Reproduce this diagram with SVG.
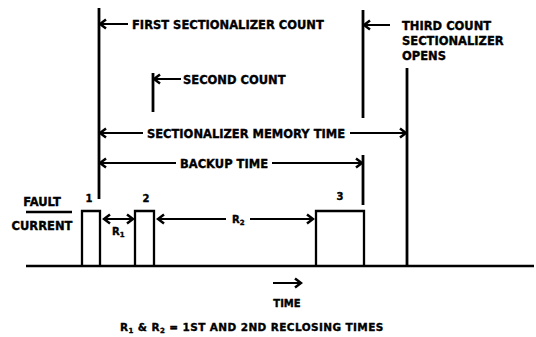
<svg xmlns="http://www.w3.org/2000/svg" width="536" height="337" viewBox="0 0 536 337">
<defs>
<style>
.t{font-family:"DejaVu Sans","Liberation Sans",sans-serif;font-weight:bold;fill:#000;stroke:#000;stroke-width:0.35px;}
.l{font-size:11.5px;}
.s{font-size:10px;}
.g{font-size:10.5px;letter-spacing:0.4px;}
.ln{stroke:#000;fill:none;stroke-width:2;}
.v{stroke:#000;fill:none;stroke-width:2.8;}
.p{stroke:#000;fill:none;stroke-width:2.3;stroke-linejoin:miter;}
</style>
<marker id="ah" markerUnits="userSpaceOnUse" viewBox="-8 -6 10 12" refX="0" refY="0" markerWidth="10" markerHeight="12" orient="auto-start-reverse">
<path d="M-6,-4.5 L0,0 L-6,4.5" fill="none" stroke="#000" stroke-width="2.5"/>
</marker>
</defs>
<rect width="536" height="337" fill="#fff"/>
<g id="connectors">
<line class="v" x1="99" y1="8" x2="99" y2="199"/>
<line class="ln" x1="128" y1="24" x2="100" y2="24" marker-end="url(#ah)"/>
<line class="v" x1="153" y1="73" x2="153" y2="112"/>
<line class="ln" x1="181" y1="79" x2="154" y2="79" marker-end="url(#ah)"/>
<line class="v" x1="363" y1="10" x2="363" y2="118"/>
<line class="ln" x1="390" y1="25" x2="364" y2="25" marker-end="url(#ah)"/>
<line class="v" x1="407" y1="68" x2="407" y2="266"/>
<line class="ln" x1="143" y1="133" x2="100" y2="133" marker-end="url(#ah)"/>
<line class="ln" x1="350" y1="133" x2="406" y2="133" marker-end="url(#ah)"/>
<line class="ln" x1="176" y1="163" x2="100" y2="163" marker-end="url(#ah)"/>
<line class="ln" x1="272" y1="163" x2="362" y2="163" marker-end="url(#ah)"/>
<line class="v" x1="363" y1="155" x2="363" y2="205"/>
<line class="ln" x1="104" y1="219" x2="133" y2="219" marker-start="url(#ah)" marker-end="url(#ah)"/>
<line class="ln" x1="226" y1="219" x2="158" y2="219" marker-end="url(#ah)"/>
<line class="ln" x1="250" y1="219" x2="313" y2="219" marker-end="url(#ah)"/>
<line class="ln" x1="273" y1="283" x2="301" y2="283" marker-end="url(#ah)"/>
<line class="p" x1="26" y1="212" x2="72" y2="212"/>
</g>
<g id="ground"><line class="p" x1="26" y1="266" x2="534" y2="266" stroke-width="2.5"/></g>
<g id="pulse1"><polyline class="p" points="82,266 82,211 100,211 100,266"/><text class="t s" x="89" y="202" text-anchor="middle">1</text></g>
<g id="pulse2"><polyline class="p" points="135,266 135,211 154,211 154,266"/><text class="t s" x="146" y="202" text-anchor="middle">2</text></g>
<g id="pulse3"><polyline class="p" points="316,266 316,211 364,211 364,266"/><text class="t s" x="340" y="200" text-anchor="middle">3</text></g>
<g id="first"><text class="t l" x="132" y="29">FIRST SECTIONALIZER COUNT</text></g>
<g id="second"><text class="t l" x="183" y="83.5">SECOND COUNT</text></g>
<g id="third"><text class="t l" x="402" y="30">THIRD COUNT</text><text class="t l" x="402" y="45">SECTIONALIZER</text><text class="t l" x="402" y="60">OPENS</text></g>
<g id="memory"><text class="t l" x="246" y="137.5" text-anchor="middle">SECTIONALIZER MEMORY TIME</text></g>
<g id="backup"><text class="t l" x="224" y="167.5" text-anchor="middle">BACKUP TIME</text></g>
<g id="fault"><text class="t l" x="42" y="206" text-anchor="middle">FAULT</text><text class="t l" x="42" y="230" text-anchor="middle">CURRENT</text></g>
<g id="r1"><text class="t s" x="112" y="235">R<tspan font-size="7" dy="2">1</tspan></text></g>
<g id="r2"><text class="t s" x="232" y="223">R<tspan font-size="7" dy="2">2</tspan></text></g>
<g id="time"><text class="t s" x="287" y="307" text-anchor="middle">TIME</text></g>
<g id="legend"><text class="t g" x="120" y="331">R<tspan font-size="7" dy="2">1</tspan><tspan dy="-2"> &amp; R</tspan><tspan font-size="7" dy="2">2</tspan><tspan dy="-2"> = 1ST AND 2ND RECLOSING TIMES</tspan></text></g>
</svg>
